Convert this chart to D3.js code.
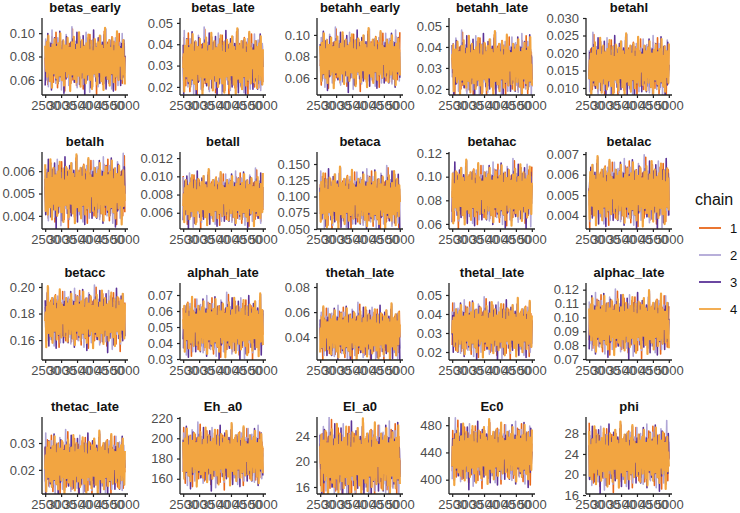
<!DOCTYPE html>
<html>
<head>
<meta charset="utf-8">
<script src="https://cdn.jsdelivr.net/npm/d3@7"></script>
<style>
  body { margin: 0; background: #fff; }
  text { font-family: "Liberation Sans", Arial, sans-serif; }
</style>
</head>
<body>
<div id="chart"></div>
<script>
// parameter names, one panel each (facet order)
const params = ["betas_early","betas_late","betahh_early","betahh_late","betahl",
  "betalh","betall","betaca","betahac","betalac",
  "betacc","alphah_late","thetah_late","thetal_late","alphac_late",
  "thetac_late","Eh_a0","El_a0","Ec0","phi"];

// posterior centre and spread
const centers = [0.076,0.031,0.077,0.031,0.016, 0.0051,0.0075,0.095,0.085,0.0051,
  0.176,0.050,0.043,0.032,0.095, 0.022,182,20.2,438,23.4];
const spreads = [0.0095,0.0055,0.0098,0.0055,0.0032, 0.00055,0.0011,0.017,0.0098,0.0006,
  0.0082,0.007,0.008,0.0055,0.0082, 0.0042,11,2.2,17,2.3];

// y ranges of each panel
const yLo = [0.047,0.0162,0.0443,0.0171,0.008, 0.00341,0.00422,0.050,0.0557,0.00336,
  0.145,0.0294,0.0218,0.0158,0.0693, 0.011,145,14.9,379,16.2];
const yHi = [0.113,0.0523,0.1157,0.0538,0.030, 0.00686,0.01267,0.1685,0.1209,0.0071,
  0.203,0.0775,0.0832,0.0563,0.1248, 0.0397,221,27,492,31.2];

const yTickLabels = [
  ["0.06","0.08","0.10"], ["0.02","0.03","0.04","0.05"], ["0.06","0.08","0.10"],
  ["0.02","0.03","0.04","0.05"], ["0.010","0.015","0.020","0.025","0.030"],
  ["0.004","0.005","0.006"], ["0.006","0.008","0.010","0.012"],
  ["0.050","0.075","0.100","0.125","0.150"], ["0.06","0.08","0.10","0.12"],
  ["0.004","0.005","0.006","0.007"],
  ["0.16","0.18","0.20"], ["0.03","0.04","0.05","0.06","0.07"], ["0.04","0.06","0.08"],
  ["0.02","0.03","0.04","0.05"], ["0.07","0.08","0.09","0.10","0.11","0.12"],
  ["0.02","0.03"], ["160","180","200","220"], ["16","20","24"], ["400","440","480"],
  ["16","20","24","28"]
];
const xTicks = [2500,3000,3500,4000,4500,5000];

const chains = ["1","2","3","4"];
const chainColors = ["#E8671A","#B0A6D6","#5B3397","#F2A541"];

// standardised draws for each chain (typed by hand)
const draws1 = [0.3,-1.2,1.8,-0.4,0.9,-2.1,1.1,0.2,-0.7,1.5,-1.6,0.6,-0.1,2.2,-1.0,0.4,-1.9,1.3,-0.3,0.8,-1.4,2.6,-0.6,0.1,-2.4,1.0,0.5,-0.9,1.7,-1.3,0.0,1.2,-1.8,0.7,-0.2,1.9,-1.1,0.3,-2.7,1.4,-0.5,0.9,-1.5,2.0,-0.8,0.6,-1.2,1.6,-0.4,0.2,-2.0,1.1,-0.1,2.9,-1.7,0.4,-0.9,1.3,-1.4,0.8,0.1,-2.2,1.5,-0.6,1.0,-1.1,2.3,-0.3,0.5,-1.6,1.2,-0.7,0.0,1.8,-2.5,0.9,-0.2,1.4,-1.0,0.3,-1.8,2.1,-0.5,0.7,-1.3,1.0,-0.8,2.4,-1.5,0.2,-0.4,1.6,-2.3,0.6,-0.1,1.1,-1.2,1.9,-0.6,0.4,-3.0,1.3,-0.3,0.8,-1.7,2.0,-0.9,0.1,-1.4,1.5,-0.2,0.7,-2.1,1.2,-0.5,2.7,-1.0,0.3,-1.6,0.9,-0.7,1.7,-1.1,0.5,-2.0,1.4,0.0,-0.8,1.0,-1.9,2.2,-0.4,0.6,-1.3,1.8,-0.6,0.2,-2.6,1.1,-0.3,1.5,-1.0,0.8,-1.5,2.5,-0.7,0.4,-1.2,1.3,-0.1,-2.0,0.9,-0.9,1.6,-1.4,0.5];
const draws2 = [-0.5,1.4,-1.1,0.2,2.0,-1.7,0.6,-0.3,1.2,-2.3,0.9,-0.8,1.7,-0.1,0.4,-1.5,2.8,-0.9,0.3,-1.2,1.0,-0.4,1.6,-2.0,0.7,0.0,-1.3,2.1,-0.6,1.1,-1.8,0.5,-0.2,1.4,-2.6,0.8,-1.0,1.9,-0.5,0.2,-1.4,1.2,-0.7,2.4,-1.1,0.6,-0.3,1.5,-2.2,0.9,-0.1,1.0,-1.6,0.4,3.1,-1.2,0.7,-0.8,1.3,-1.9,0.1,1.8,-0.6,0.5,-2.4,1.1,-0.2,0.8,-1.0,2.2,-1.5,0.3,-0.9,1.6,-0.4,0.0,-2.1,1.4,-0.7,1.0,-1.3,2.6,-0.5,0.6,-1.7,1.2,-0.2,0.9,-2.8,1.5,-0.8,0.3,-1.1,1.9,-0.3,0.7,-1.4,2.0,-0.6,0.2,-1.8,1.3,-1.0,0.5,-2.3,1.7,-0.1,0.8,-1.2,2.3,-0.9,0.4,-1.6,1.1,-0.4,0.0,-2.0,1.6,-0.7,2.9,-1.3,0.6,-0.5,1.2,-1.9,0.9,-0.2,1.4,-1.1,0.3,-2.5,1.8,-0.8,0.5,-1.5,1.0,-0.3,2.1,-1.0,0.7,-0.6,1.3,-2.2,0.2,0.8,-1.4,1.7,-0.5,0.1,-1.7,2.5,-0.9,0.4];
const draws3 = [0.8,-1.5,0.2,1.9,-0.9,0.5,-2.2,1.3,-0.4,0.7,-1.1,2.5,-0.7,0.1,-1.8,1.0,-0.3,1.6,-2.6,0.9,-0.5,1.2,-1.3,0.4,2.1,-1.0,0.3,-1.7,1.5,-0.2,0.6,-2.0,1.1,-0.8,2.7,-1.4,0.0,0.9,-1.2,1.8,-0.6,0.4,-2.9,1.4,-0.1,0.7,-1.6,2.2,-0.9,0.2,-1.1,1.3,-0.4,0.8,-2.3,1.7,-0.7,0.5,-1.4,2.0,-0.2,1.0,-1.9,0.3,-0.6,1.5,-1.0,2.6,-1.3,0.1,-0.8,1.2,-2.1,0.6,-0.3,1.8,-1.5,0.9,-0.5,2.3,-1.2,0.4,-3.1,1.1,-0.1,0.7,-1.7,1.4,-0.9,0.2,-1.2,1.9,-0.4,0.8,-2.4,1.3,-0.6,0.5,-1.0,2.8,-1.1,0.3,-0.7,1.6,-1.8,0.0,0.9,-1.4,2.1,-0.5,0.6,-2.0,1.2,-0.2,0.4,-1.6,1.7,-0.8,0.1,-1.3,2.4,-0.6,1.0,-2.5,0.7,-0.3,1.5,-1.1,0.3,-1.9,1.9,-0.7,0.8,-1.2,2.0,-0.4,0.5,-2.7,1.4,-0.9,0.2,-1.5,1.1,-0.1,2.6,-1.0,0.6,-1.7,0.9,-0.5,1.3,-2.2,0.4,1.6];
const draws4 = [-0.2,1.1,-1.6,0.7,-0.5,1.9,-1.2,0.3,-2.1,1.4,0.0,-0.9,1.7,-1.4,0.6,2.3,-1.0,0.2,-1.8,1.2,-0.4,0.8,-2.4,1.5,-0.7,0.4,-1.1,2.0,-0.3,0.9,-1.5,1.3,-0.1,-2.0,1.6,-0.8,0.5,-1.3,2.5,-0.6,0.1,-1.7,1.0,-0.2,1.8,-2.2,0.7,-0.9,1.4,-0.4,0.3,-1.4,2.1,-1.1,0.6,-0.5,1.2,-2.7,0.9,-0.3,1.7,-1.2,0.4,-0.8,2.2,-1.6,0.2,1.0,-0.6,-1.9,1.5,-0.1,0.8,-1.3,2.6,-0.7,0.5,-2.3,1.1,-0.4,1.9,-1.0,0.3,-1.5,1.3,-0.2,0.7,-2.0,1.6,-0.9,0.1,-1.2,2.4,-0.5,0.6,-1.7,1.0,-0.3,1.8,-2.5,0.9,-0.8,0.4,-1.1,2.0,-0.6,1.2,-1.4,0.2,-2.1,1.7,-0.4,0.8,-1.0,2.3,-0.7,0.5,-1.8,1.4,-0.2,0.6,-2.6,1.1,-0.9,3.0,-1.3,0.3,-0.5,1.5,-1.6,0.7,-0.1,1.9,-2.2,0.4,-0.8,1.2,-1.1,2.1,-0.3,0.9,-1.9,0.5,-0.6,1.6,-1.4,0.2,2.7,-1.2,0.0,-1.7,1.3,-0.4,0.8];
const allDraws = [draws1, draws2, draws3, draws4];

// layout
const colX = [42, 180, 317, 449, 586];
const rowY = [18, 152, 283, 417];
const panelW = 86, panelH = 77;

const svg = d3.select("#chart").append("svg")
  .attr("width", 740).attr("height", 513);

const x = d3.scaleLinear().domain([2400, 5100]).range([0, panelW]);

params.forEach((name, p) => {
  const col = p % 5, row = Math.floor(p / 5);
  const g = svg.append("g")
    .attr("transform", `translate(${colX[col]},${rowY[row]})`);

  const y = d3.scaleLinear().domain([yLo[p], yHi[p]]).range([panelH, 0]);

  g.append("clipPath").attr("id", "clip" + p)
    .append("rect").attr("width", panelW).attr("height", panelH);

  const lines = g.append("g").attr("clip-path", `url(#clip${p})`);
  allDraws.forEach((z, c) => {
    const n = z.length, off = (p * 11 + c * 3) % n;
    const pts = z.map((_, i) => ({
      iter: 2501 + i * 2499 / (n - 1),
      val: centers[p] + spreads[p] * z[(i + off) % n]
    }));
    lines.append("path")
      .datum(pts)
      .attr("fill", "none")
      .attr("stroke", chainColors[c])
      .attr("stroke-width", c === 3 ? 2.2 : 1.6)
      .attr("stroke-linejoin", "round")
      .attr("d", d3.line().x(d => x(d.iter)).y(d => y(d.val)));
  });

  // y axis
  const ya = g.append("g")
    .call(d3.axisLeft(y).tickValues(yTickLabels[p].map(Number))
      .tickFormat((d, i) => yTickLabels[p][i]).tickSize(3).tickPadding(4));
  // x axis
  const xa = g.append("g").attr("transform", `translate(0,${panelH})`)
    .call(d3.axisBottom(x).tickValues(xTicks).tickFormat(d3.format("d"))
      .tickSize(3).tickPadding(3));

  [ya, xa].forEach(a => {
    a.select(".domain").attr("stroke", "#222").attr("stroke-width", 1.3);
    a.selectAll(".tick line").attr("stroke", "#222").attr("stroke-width", 1.2);
    a.selectAll(".tick text").attr("fill", "#4D4D4D")
      .style("font-size", "13px")
      .style("font-family", "'Liberation Sans', Arial, sans-serif");
  });
  ya.select(".domain").attr("d", `M0,0V${panelH}`);
  xa.select(".domain").attr("d", `M0,0H${panelW}`);

  // facet title
  g.append("text")
    .attr("x", panelW / 2).attr("y", -6)
    .attr("text-anchor", "middle")
    .style("font-size", "13px").style("font-weight", "bold")
    .attr("fill", "#111")
    .text(name);
});

// legend
const legend = svg.append("g").attr("transform", "translate(695,0)");
legend.append("text").attr("x", 0).attr("y", 205)
  .style("font-size", "16px").attr("fill", "#111").text("chain");
chains.forEach((ch, i) => {
  const ly = 228 + i * 27;
  legend.append("line").attr("x1", 4).attr("x2", 26)
    .attr("y1", ly).attr("y2", ly)
    .attr("stroke", chainColors[i]).attr("stroke-width", 1.8);
  legend.append("text").attr("x", 35).attr("y", ly + 4.5)
    .style("font-size", "13px").attr("fill", "#111").text(ch);
});
</script>
</body>
</html>
